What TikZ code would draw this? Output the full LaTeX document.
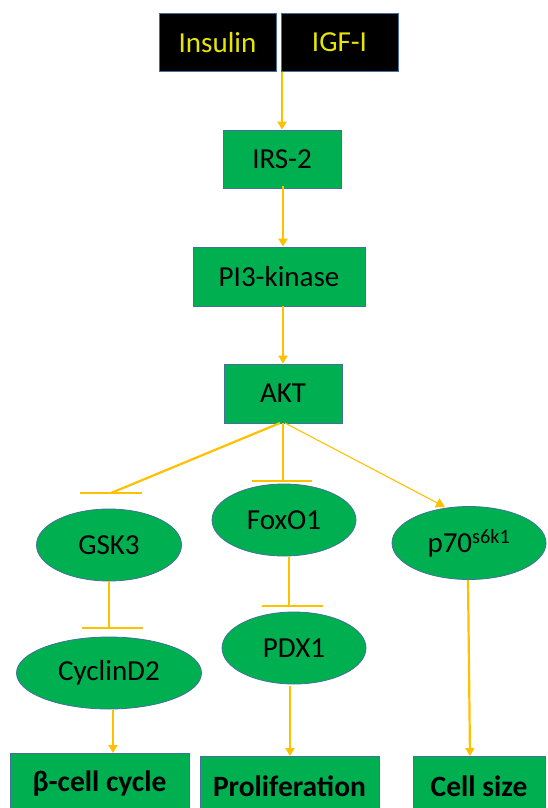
\documentclass[tikz,border=0pt]{standalone}
\usepackage{fontspec}
\setmainfont{Carlito}
\usetikzlibrary{shapes.geometric,arrows.meta}
\definecolor{boxgreen}{HTML}{00B050}
\definecolor{edgeblue}{HTML}{41719C}
\definecolor{gold}{HTML}{FFC000}
\definecolor{sigyellow}{HTML}{E6E600}
\tikzset{
  rbox/.style={rectangle,draw=edgeblue,line width=0.8pt,fill=boxgreen,inner sep=0pt,font=\fontsize{29}{31}\selectfont},
  sigbox/.style={rectangle,draw=edgeblue,line width=1pt,fill=black,text=sigyellow,inner sep=0pt,minimum width=117pt,minimum height=57pt,font=\fontsize{29}{31}\selectfont},
  oval/.style={ellipse,draw=edgeblue,line width=0.8pt,fill=boxgreen,inner sep=0pt,minimum height=72pt,font=\fontsize{29}{31}\selectfont},
  outbox/.style={rectangle,draw=edgeblue,line width=0.8pt,fill=boxgreen,inner sep=0pt,minimum height=62pt,font=\fontsize{29.5}{31}\selectfont\bfseries},
  act/.style={draw=gold,line width=2.2pt,-{Triangle[length=8pt,width=9pt]}},
  thinact/.style={draw=gold,line width=1.1pt,-{Triangle[length=9pt,width=10pt]}},
  inh/.style={draw=gold,line width=2.2pt},
  tbar/.style={draw=gold,line width=2.6pt}
}
\begin{document}
\begin{tikzpicture}[x=1pt,y=-1pt]
\useasboundingbox (0,0) rectangle (547,808);
\clip (0,0) rectangle (547,808);
% signals
\node[sigbox] (ins) at (217.5,42.5) {Insulin};
\node[sigbox] (igf) at (339.5,42.5) {IGF-I};
% cascade
\node[rbox,minimum width=118pt,minimum height=58pt] (irs) at (282,159) {IRS-2};
\node[rbox,minimum width=172pt,minimum height=59pt] (pi3) at (279,276.5) {PI3-kinase};
\node[rbox,minimum width=118pt,minimum height=59pt] (akt) at (283,393.5) {AKT};
% ovals
\node[oval,minimum width=145pt] (gsk) at (109,545) {GSK3};
\node[oval,minimum width=144pt] (fox) at (284,520) {FoxO1};
\node[oval,minimum width=154pt,minimum height=73pt] (p70) at (469,543) {p70\textsuperscript{s6k1}};
\node[oval,minimum width=185pt] (cyc) at (109,673) {CyclinD2};
\node[oval,minimum width=144pt] (pdx) at (294,648) {PDX1};
% outcomes
\node[outbox,minimum width=179pt] (bcc) at (99.5,784) {β-cell cycle};
\node[outbox,minimum width=179pt,minimum height=60pt] (pro) at (289.5,786) {Proliferation};
\node[outbox,minimum width=132pt,minimum height=60pt] (csz) at (479,786) {Cell size};
% coordinates for line ends
\coordinate (aktg) at (280,423);
\coordinate (aktf) at (283,423);
\coordinate (aktp) at (285,423);
\coordinate (tg) at (111,493);
\coordinate (tf) at (283,481);
\coordinate (tc) at (109,628);
\coordinate (tp) at (289,606);
\coordinate (p70tip) at (445,507);
\coordinate (gsks) at (109,581);
\coordinate (foxs) at (289,557);
\coordinate (cycs) at (113,710);
\coordinate (bcct) at (113,753);
\coordinate (pdxs) at (290,686);
\coordinate (prot) at (290,756);
\coordinate (p70s) at (468,580);
\coordinate (cszt) at (470,756);
% activations
\draw[act] (igf.south -| irs.north) -- (irs.north);
\draw[act] ([yshift=2pt]irs.south -| 283,0) -- (pi3.north -| 283,0);
\draw[act] (pi3.south -| 283,0) -- (akt.north -| 283,0);
% inhibitions
\draw[inh] (aktg) -- (tg);
\draw[tbar] ([xshift=-31pt]tg) -- ([xshift=31pt]tg);
\draw[inh] (aktf) -- (tf);
\draw[tbar] ([xshift=-31pt]tf) -- ([xshift=29pt]tf);
\draw[thinact] (aktp) -- (p70tip);
\draw[inh] (gsks) -- (tc);
\draw[tbar] ([xshift=-27pt]tc) -- ([xshift=34pt]tc);
\draw[inh] (foxs) -- (tp);
\draw[tbar] ([xshift=-27pt]tp) -- ([xshift=34pt]tp);
% to outcomes
\draw[act] (cycs) -- (bcct);
\draw[act] (pdxs) -- (prot);
\draw[act] (p70s) -- (cszt);
\end{tikzpicture}
\end{document}
